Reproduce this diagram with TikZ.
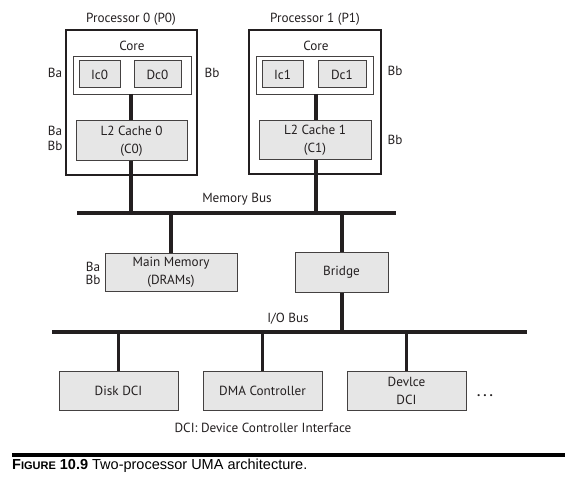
\documentclass[tikz,border=0pt]{standalone}
\usepackage{fontspec}
\setmainfont{PT Sans}
\newfontfamily\capfont{Liberation Sans}
\definecolor{boxfill}{HTML}{E6E6E6}
\definecolor{ink}{HTML}{231F20}
\begin{document}
\begin{tikzpicture}[x=1pt,y=-1pt,
  lbl/.style={font=\fontsize{13.2}{15}\selectfont, text=ink, inner sep=0pt, align=center},
  graybox/.style={draw=ink!85, line width=1pt, fill=boxfill},
  outerbox/.style={draw=ink, line width=1.3pt, fill=white},
  corebox/.style={draw=ink!85, line width=0.9pt, fill=white},
  bus/.style={draw=ink, line width=4pt},
  link/.style={draw=ink, line width=3.6pt}]
\useasboundingbox (0,0) rectangle (565,484);
% Processor 0
\draw[outerbox] (66,30) rectangle (197,175);
\node[lbl] (t0) at (131,19) {Processor 0 (P0)};
\node[lbl] (c0l) at (132,46) {Core};
\draw[corebox] (73,56) rectangle (191,94);
\node[graybox, minimum width=41pt, minimum height=27pt, lbl] (ic0) at (99.5,74.5) {Ic0};
\node[graybox, minimum width=47pt, minimum height=27pt, lbl] (dc0) at (157.5,74.5) {Dc0};
\node[graybox, minimum width=111pt, minimum height=40pt, lbl] (l20) at (131.5,141) {L2 Cache 0\\[3pt](C0)};
\coordinate (core0b) at (131,94);
% Processor 1
\draw[outerbox] (249,30) rectangle (381,174);
\node[lbl] (t1) at (315,19) {Processor 1 (P1)};
\node[lbl] (c1l) at (316,46) {Core};
\draw[corebox] (256,56) rectangle (373,94);
\node[graybox, minimum width=41pt, minimum height=27pt, lbl] (ic1) at (282.5,74.5) {Ic1};
\node[graybox, minimum width=48pt, minimum height=27pt, lbl] (dc1) at (342,74.5) {Dc1};
\node[graybox, minimum width=112pt, minimum height=39pt, lbl] (l21) at (315,140.5) {L2 Cache 1\\[3pt](C1)};
\coordinate (core1b) at (316,94);
% Ba/Bb labels
\node[lbl] (ba1) at (55,73) {Ba};
\node[lbl] (bb1) at (212,73) {Bb};
\node[lbl] (ba2) at (55,138.5) {Ba\\Bb};
\node[lbl] (bb2) at (395,71) {Bb};
\node[lbl] (bb3) at (395,140) {Bb};
% Memory bus
\coordinate (mbL) at (77,213);
\coordinate (mbR) at (396,213);
\draw[bus] (mbL) -- (mbR);
\node[lbl] (mbl) at (237,199) {Memory Bus};
\coordinate (mb0) at (131,213);
\coordinate (mb1) at (316,213);
\coordinate (mbm) at (171,213);
\coordinate (mbb) at (342,213);
\draw[link] (core0b) -- (l20.north -| core0b);
\draw[link] (l20.south -| mb0) -- (mb0);
\draw[link] (core1b) -- (l21.north -| core1b);
\draw[link] (l21.south -| mb1) -- (mb1);
% Main memory and bridge
\node[graybox, minimum width=132pt, minimum height=38pt, lbl] (mm) at (171,272) {Main Memory\\[3pt](DRAMs)};
\node[lbl] (ba3) at (93,273.5) {Ba\\[-2pt]Bb};
\node[graybox, minimum width=93pt, minimum height=40pt, lbl] (br) at (341.5,272) {Bridge};
\draw[link] (mbm) -- (mm.north -| mbm);
\draw[link] (mbb) -- (br.north -| mbb);
% I/O bus
\coordinate (ioL) at (52,332);
\coordinate (ioR) at (527,332);
\draw[bus] (ioL) -- (ioR);
\node[lbl] (iol) at (288,319) {I/O Bus};
\draw[link] (br.south -| mbb) -- (mbb |- ioL);
% Devices
\node[graybox, minimum width=119pt, minimum height=39pt, lbl] (disk) at (118.5,390.5) {Disk DCI};
\node[graybox, minimum width=119pt, minimum height=39pt, lbl] (dma) at (262.5,390.5) {DMA Controller};
\node[graybox, minimum width=119pt, minimum height=39pt, lbl] (dev) at (406.5,390.5) {Devlce\\[3pt]DCI};
\draw[link] (disk.north) -- (disk.north |- ioL);
\draw[link] (dma.north) -- (dma.north |- ioL);
\draw[link] (dev.north) -- (dev.north |- ioL);
\node[lbl, anchor=base] (dots) at (485,396) {\textbf{.\hspace{3pt}.\hspace{3pt}.}};
\node[lbl] (leg) at (263,428) {DCI: Device Controller Interface};
% Caption
\fill[black] (12,452.5) rectangle (565,457);
\node[anchor=west, inner sep=0pt, font=\capfont\fontsize{14.5}{16}\selectfont] (cap) at (12,465.5)
  {\textbf{F{\fontsize{11}{12}\selectfont IGURE} 10.9} Two-processor UMA architecture.};
\end{tikzpicture}
\end{document}
